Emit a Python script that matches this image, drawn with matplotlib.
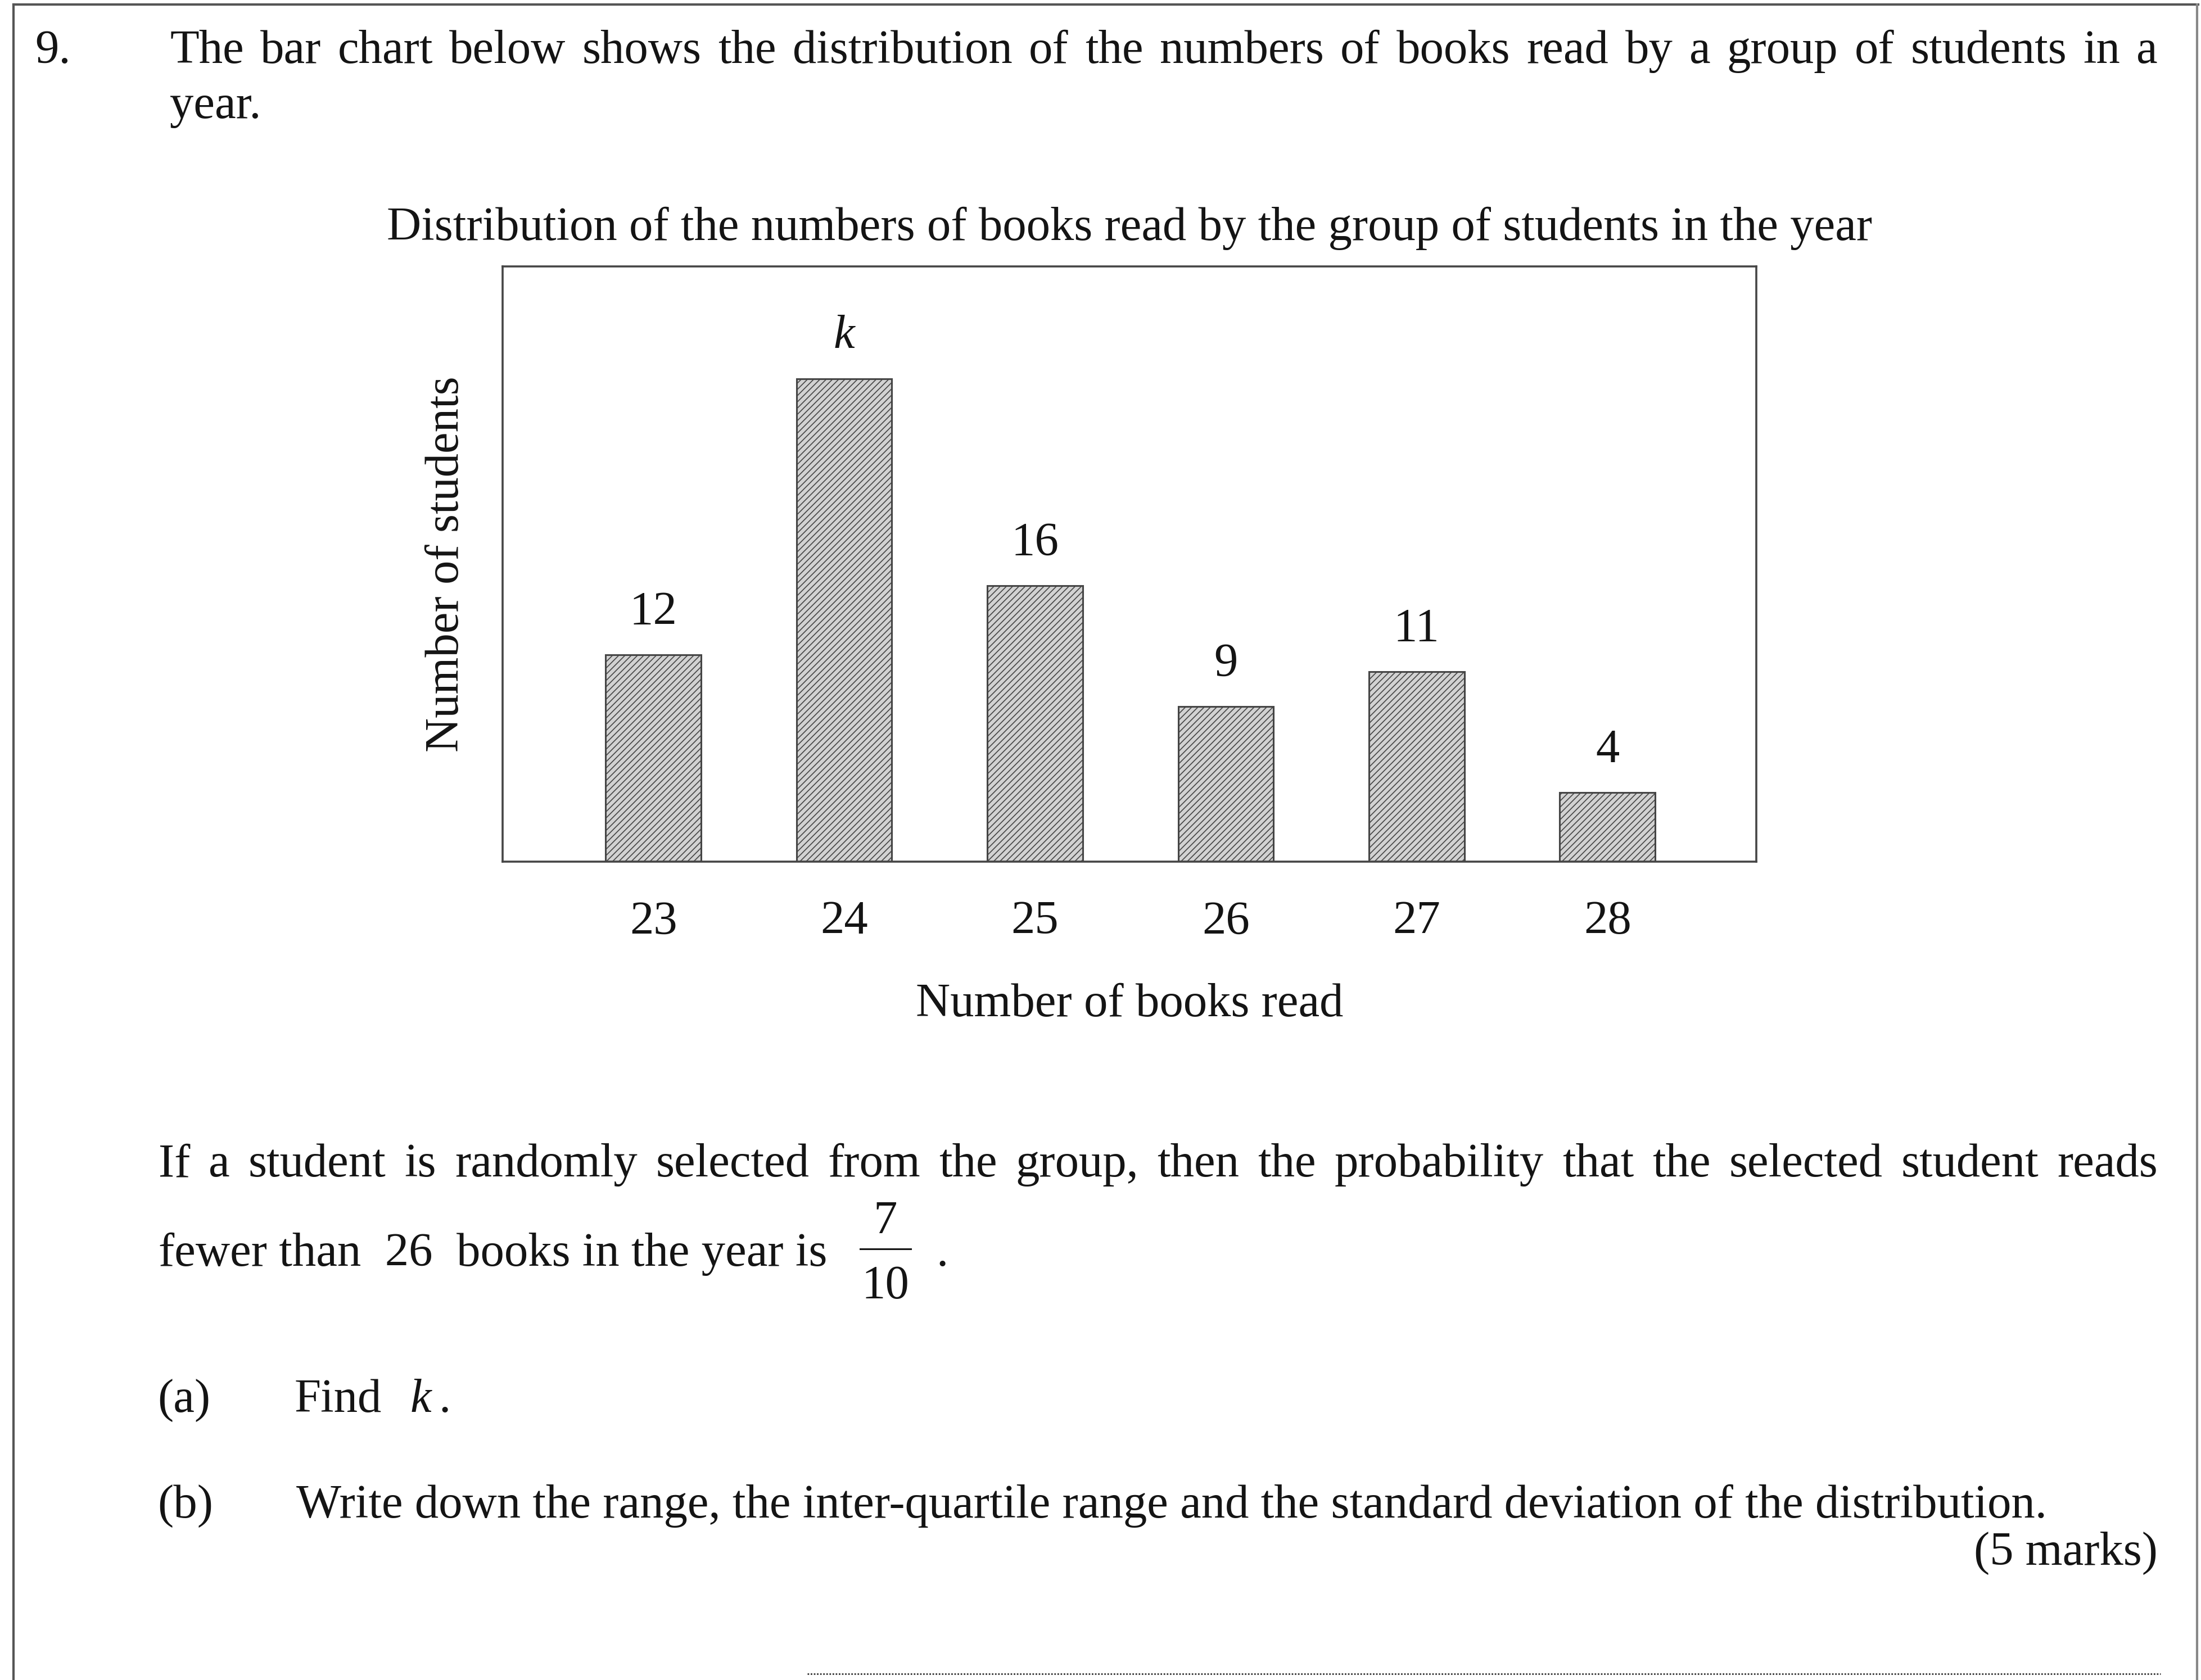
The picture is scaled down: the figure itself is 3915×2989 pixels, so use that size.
import matplotlib
matplotlib.use("Agg")
import matplotlib.pyplot as plt
from matplotlib.lines import Line2D

plt.rcParams['font.family'] = ['Liberation Serif', 'DejaVu Serif']
plt.rcParams['hatch.linewidth'] = 1.2

# data (k solved from P(fewer than 26) = 7/10)
books = [23, 24, 25, 26, 27, 28]
students = [12, 28, 16, 9, 11, 4]
bar_labels = ['12', 'k', '16', '9', '11', '4']

title = 'Distribution of the numbers of books read by the group of students in the year'
x_title = 'Number of books read'
y_title = 'Number of students'

W, H = 3915, 2989
FS = 61
ink = '#141414'
frame = '#454545'

fig = plt.figure(figsize=(W / 100, H / 100), dpi=100)
fig.patch.set_facecolor('white')


def fx(x):
    return x / W


def fy(y):
    return 1 - y / H


def put(x, y, s, **kw):
    kw.setdefault('fontsize', FS)
    kw.setdefault('color', ink)
    kw.setdefault('va', 'baseline')
    return fig.text(fx(x), fy(y), s, **kw)


def justified(line, x0, x1, y):
    # spread words so the line fills x0..x1 like the printed page
    words = line.split()
    texts = [put(0, y, w) for w in words]
    r = fig.canvas.get_renderer()
    widths = [t.get_window_extent(r).width for t in texts]
    gap = (x1 - x0 - sum(widths)) / (len(words) - 1)
    x = x0
    for t, w in zip(texts, widths):
        t.set_position((fx(x), fy(y)))
        x += w + gap


# chart
ax = fig.add_axes([894 / W, 1 - 1533 / H, (3124 - 894) / W, (1533 - 474) / H])
bars = ax.bar(books, students, width=0.5, color='#d2d2d2', edgecolor=frame,
              linewidth=2.2, hatch='///')
lbls = ax.bar_label(bars, labels=bar_labels, padding=26, fontsize=FS, color=ink)
lbls[1].set_fontstyle('italic')
ax.set_xlim(22.21, 28.78)
ax.set_ylim(0, 34.5)
ax.set_xticks(books)
ax.set_xticklabels([str(b) for b in books])
ax.set_yticks([])
ax.tick_params(axis='x', length=0, pad=50, labelsize=FS, labelcolor=ink)
for sp in ax.spines.values():
    sp.set_color(frame)
    sp.set_linewidth(2.6)
ax.set_title(title, fontsize=FS, color=ink, pad=34)
ax.set_xlabel(x_title, fontsize=FS, color=ink, labelpad=50)
ax.set_ylabel(y_title, fontsize=FS, color=ink, labelpad=44)

# question text
put(62, 112, '9.')
justified('The bar chart below shows the distribution of the numbers of books '
          'read by a group of students in a', 302, 3838, 112)
put(302, 210, 'year.')

justified('If a student is randomly selected from the group, then the probability '
          'that the selected student reads', 282, 3838, 2093)
put(282, 2252, 'fewer than  26  books in the year is')
put(1575, 2195, '7', ha='center')
fig.add_artist(Line2D([fx(1530), fx(1620)], [fy(2222), fy(2222)], color=ink, lw=2.2))
put(1575, 2310, '10', ha='center')
put(1665, 2252, '.')

put(280, 2512, '(a)')
put(524, 2512, 'Find')
put(730, 2512, 'k', style='italic')
put(780, 2512, '.')

put(280, 2700, '(b)')
put(527, 2700, 'Write down the range, the inter-quartile range and the standard '
               'deviation of the distribution.')
put(3838, 2784, '(5 marks)', ha='right')

# page border of the scan
fig.add_artist(Line2D([fx(24), fx(24)], [fy(8), fy(2989)], color='#555555', lw=3))
fig.add_artist(Line2D([fx(24), fx(3910)], [fy(8), fy(8)], color='#555555', lw=3))
fig.add_artist(Line2D([fx(3908), fx(3908)], [fy(8), fy(2989)], color='#888888', lw=3))
fig.add_artist(Line2D([fx(1436), fx(3843)], [fy(2978), fy(2978)], color='#333333',
                      lw=2, ls=(0, (1, 1))))

fig.savefig('out.png', dpi=100)
